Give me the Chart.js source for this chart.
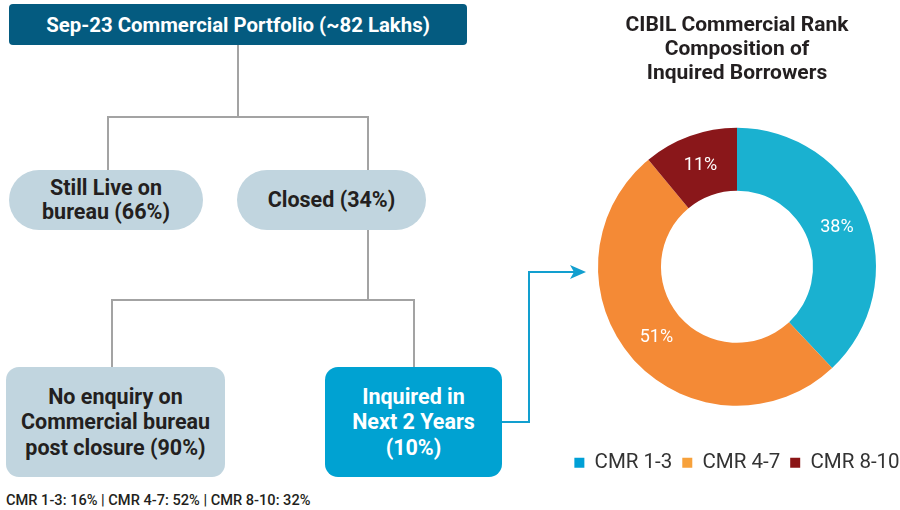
<!DOCTYPE html>
<html>
<head>
<meta charset="utf-8">
<script src="https://cdn.jsdelivr.net/npm/chart.js@4.4.1/dist/chart.umd.min.js"></script>
<style>
  html, body { margin: 0; padding: 0; background: #fff; }
  body { width: 900px; height: 510px; position: relative; overflow: hidden; font-family: Roboto, "Noto Sans", sans-serif; }
  .box { position: absolute; display: flex; align-items: center; justify-content: center; text-align: center; font-weight: 700; color: #231f20; box-sizing: border-box; }
  .top { left: 9px; top: 4px; width: 458px; height: 41px; background: #045b80; color: #fff; border-radius: 4px; font-size: 20.4px; }
  .pill { top: 170px; height: 60px; background: #c1d5df; border-radius: 30px; font-size: 21.5px; line-height: 24px; }
  .card { top: 367px; height: 110px; border-radius: 13px; font-size: 21.5px; line-height: 25.5px; }
  .note { position: absolute; left: 6px; top: 491px; font-size: 14.6px; font-weight: 500; color: #231f20; }
  svg { position: absolute; left: 0; top: 0; }
  #chartWrap { position: absolute; left: 540px; top: 0; width: 370px; height: 510px; }
</style>
</head>
<body>

<svg width="900" height="510">
  <g stroke="#a3a3a3" stroke-width="2" fill="none">
    <path d="M238 45 V117 M108 170 V117 H368 V170" />
    <path d="M368 230 V300 M112 367 V300 H414 V367" />
  </g>
  <path d="M502 422 H529 V272 H574" stroke="#129fcf" stroke-width="2" fill="none" />
  <path d="M586 272 L570 265 L574 272 L570 279 Z" fill="#129fcf" />
</svg>

<div class="box top">Sep-23 Commercial Portfolio (~82 Lakhs)</div>
<div class="box pill" style="left:9px;width:194px;">Still Live on<br>bureau (66%)</div>
<div class="box pill" style="left:237px;width:189px;">Closed (34%)</div>
<div class="box card" style="left:6px;width:219px;background:#c1d5df;">No enquiry on<br>Commercial bureau<br>post closure (90%)</div>
<div class="box card" style="left:325px;width:177px;background:#00a2d2;color:#fff;">Inquired in<br>Next 2 Years<br>(10%)</div>
<div class="note">CMR 1-3: 16% | CMR 4-7: 52% | CMR 8-10: 32%</div>

<div id="chartWrap"><canvas id="donut"></canvas></div>

<script>
const categories = ['CMR 1-3', 'CMR 4-7', 'CMR 8-10'];
const shares = [38, 51, 11];
const titleLines = ['CIBIL Commercial Rank', 'Composition of', 'Inquired Borrowers'];

const sliceColors = ['#1ab1d0', '#f48a36', '#8a171a'];
const legendColors = ['#00a0d6', '#f7a13b', '#8b1516'];

// white % labels in the middle of each slice
const sliceLabels = {
  id: 'sliceLabels',
  afterDatasetsDraw(chart) {
    const ctx = chart.ctx;
    const meta = chart.getDatasetMeta(0);
    ctx.save();
    ctx.fillStyle = '#ffffff';
    ctx.font = '400 18px Roboto';
    ctx.textAlign = 'center';
    ctx.textBaseline = 'middle';
    meta.data.forEach((arc, i) => {
      const p = arc.tooltipPosition();
      ctx.fillText(shares[i] + '%', p.x, p.y);
    });
    ctx.restore();
  }
};

new Chart(document.getElementById('donut'), {
  type: 'doughnut',
  data: {
    labels: categories,
    datasets: [{
      data: shares,
      backgroundColor: sliceColors,
      borderWidth: 0
    }]
  },
  options: {
    responsive: true,
    maintainAspectRatio: false,
    animation: false,
    radius: 139,
    cutout: '54.7%',
    layout: { padding: { left: 24, right: 0, top: 0, bottom: 27 } },
    plugins: {
      title: {
        display: true,
        text: titleLines,
        color: '#231f20',
        font: { family: 'Roboto', size: 21, weight: 'bold', lineHeight: '24px' },
        padding: { top: 14, bottom: 5 }
      },
      legend: {
        position: 'bottom',
        labels: {
          color: '#333333',
          font: { family: 'Roboto', size: 20.5 },
          boxWidth: 10,
          boxHeight: 10,
          padding: 10,
          generateLabels(chart) {
            return categories.map((c, i) => ({
              text: c,
              fillStyle: legendColors[i],
              strokeStyle: legendColors[i],
              lineWidth: 0,
              fontColor: '#333333',
              index: i
            }));
          }
        }
      },
      tooltip: { enabled: false }
    }
  },
  plugins: [sliceLabels]
});
</script>
</body>
</html>
